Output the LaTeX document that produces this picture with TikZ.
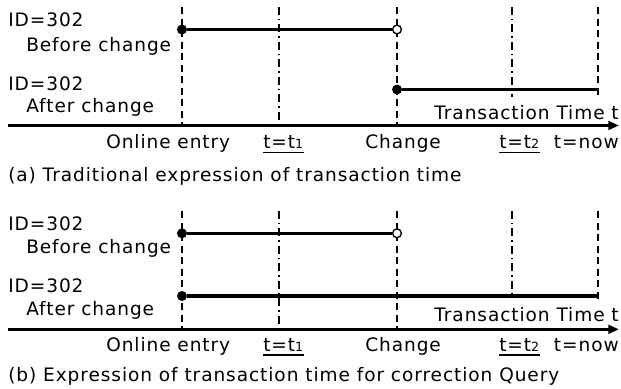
\documentclass[tikz,border=0pt]{standalone}
\usepackage{fontspec}
\setmainfont{DejaVu Sans}[LetterSpace=5]
\usetikzlibrary{arrows.meta}
\begin{document}
\begin{tikzpicture}[x=0.75pt,y=-0.75pt,
  txt/.style={font=\fontsize{13.9}{16}\selectfont, inner sep=0pt, anchor=base west},
  txtr/.style={txt, anchor=base east},
  guide/.style={line width=1pt, dash pattern=on 5.25pt off 3.4pt},
  guidedot/.style={line width=1pt, dash pattern=on 6pt off 3pt on 1.1pt off 3pt},
  period/.style={line width=2.4pt},
  axisline/.style={line width=2.4pt, -{Triangle[length=8pt,width=6.5pt]}},
  uline/.style={line width=1.2pt},
  closedpt/.style={circle, fill=black, inner sep=0pt, minimum size=7.5pt},
  openpt/.style={circle, draw=black, fill=white, line width=1pt, inner sep=0pt, minimum size=6.6pt},
]
\useasboundingbox (0,0) rectangle (621,389);

% ---------- (a) ----------
\node[txt] (a-id1) at (8,26.7) {ID=302};
\node[txt] (a-bef) at (26,51.5) {Before change};
\node[txt] (a-id2) at (8,90) {ID=302};
\node[txt] (a-aft) at (26,112.7) {After change};
\node[txtr] (a-tt) at (619,119) {Transaction Time t};

% time grid
\coordinate (a-on-top) at (182,7);   \coordinate (a-on-bot) at (182,125.5);
\coordinate (a-t1-top) at (279,7);   \coordinate (a-t1-bot) at (279,121);
\coordinate (a-ch-top) at (397,7);   \coordinate (a-ch-bot) at (397,125.5);
\coordinate (a-t2-top) at (512,7);   \coordinate (a-t2-bot) at (512,97);
\coordinate (a-now-top) at (598,7);  \coordinate (a-now-bot) at (598,99);
\draw[guide] (a-on-top) -- (a-on-bot);
\draw[guidedot] (a-t1-top) -- (a-t1-bot);
\draw[guide] (a-ch-top) -- (a-ch-bot);
\draw[guidedot] (a-t2-top) -- (a-t2-bot);
\draw[guide] (a-now-top) -- (a-now-bot);

% validity periods
\node[closedpt] (a-b-start) at (182,29.5) {};
\node[openpt] (a-b-end) at (397,29.5) {};
\draw[period] (a-b-start) -- (a-b-end);
\node[closedpt] (a-a-start) at (397,89.5) {};
\coordinate (a-a-end) at (598,89.5);
\draw[period] (a-a-start) -- (a-a-end);

% axis
\coordinate (a-ax0) at (8,125.5);
\coordinate (a-ax1) at (619,125.5);
\draw[axisline] (a-ax0) -- (a-ax1);

\node[txt] (a-online) at (106,148.3) {Online entry};
\node[txt] (a-t1) at (263,148.3) {t=t{\fontsize{9.5}{10}\selectfont 1}};
\draw[uline] ([yshift=-3.2pt]a-t1.base west) -- ([yshift=-3.2pt]a-t1.base east);
\node[txt] (a-change) at (365,148.3) {Change};
\node[txt] (a-t2) at (499,148.3) {t=t{\fontsize{9.5}{10}\selectfont 2}};
\draw[uline] ([yshift=-3.2pt]a-t2.base west) -- ([yshift=-3.2pt]a-t2.base east);
\node[txtr] (a-now) at (619,148.3) {t=now};
\node[txt] (a-cap) at (8,181.7) {(a) Traditional expression of transaction time};

% ---------- (b) ----------
\node[txt] (b-id1) at (8,230) {ID=302};
\node[txt] (b-bef) at (26,253.3) {Before change};
\node[txt] (b-id2) at (8,292.7) {ID=302};
\node[txt] (b-aft) at (26,315) {After change};
\node[txtr] (b-tt) at (619,321.7) {Transaction Time t};

\coordinate (b-on-top) at (182,211);   \coordinate (b-on-bot) at (182,329.3);
\coordinate (b-t1-top) at (279,211);   \coordinate (b-t1-bot) at (279,325);
\coordinate (b-ch-top) at (397,211);   \coordinate (b-ch-bot) at (397,329.3);
\coordinate (b-t2-top) at (512,211);   \coordinate (b-t2-bot) at (512,295);
\coordinate (b-now-top) at (598,211);  \coordinate (b-now-bot) at (598,303);
\draw[guide] (b-on-top) -- (b-on-bot);
\draw[guidedot] (b-t1-top) -- (b-t1-bot);
\draw[guide] (b-ch-top) -- (b-ch-bot);
\draw[guidedot] (b-t2-top) -- (b-t2-bot);
\draw[guide] (b-now-top) -- (b-now-bot);

\node[closedpt] (b-b-start) at (182,233.3) {};
\node[openpt] (b-b-end) at (397,233.3) {};
\draw[period] (b-b-start) -- (b-b-end);
\node[closedpt] (b-a-start) at (182,296) {};
\coordinate (b-a-end) at (598,296);
\draw[period] (b-a-start) -- (b-a-end);

\coordinate (b-ax0) at (8,329.3);
\coordinate (b-ax1) at (619,329.3);
\draw[axisline] (b-ax0) -- (b-ax1);

\node[txt] (b-online) at (106,351) {Online entry};
\node[txt] (b-t1) at (263,351) {t=t{\fontsize{9.5}{10}\selectfont 1}};
\draw[uline] ([yshift=-3.2pt]b-t1.base west) -- ([yshift=-3.2pt]b-t1.base east);
\node[txt] (b-change) at (365,351) {Change};
\node[txt] (b-t2) at (499,351) {t=t{\fontsize{9.5}{10}\selectfont 2}};
\draw[uline] ([yshift=-3.2pt]b-t2.base west) -- ([yshift=-3.2pt]b-t2.base east);
\node[txtr] (b-now) at (619,351) {t=now};
\node[txt] (b-cap) at (8,381.7) {(b) Expression of transaction time for correction Query};
\end{tikzpicture}
\end{document}
